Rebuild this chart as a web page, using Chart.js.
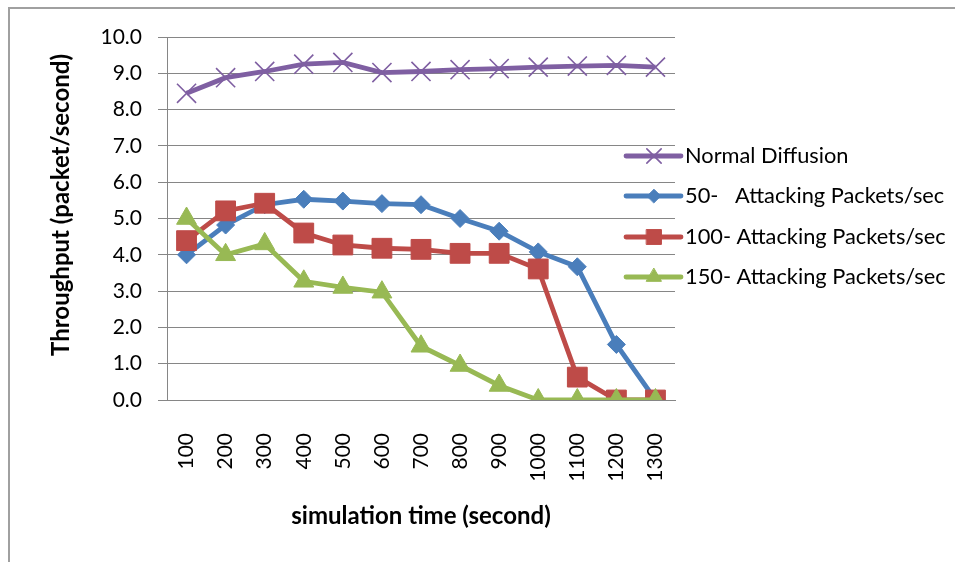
<!DOCTYPE html>
<html>
<head>
<meta charset="utf-8">
<script src="https://cdn.jsdelivr.net/npm/chart.js@4.4.1/dist/chart.umd.min.js"></script>
<style>
    html, body { margin: 0; padding: 0; background: #fff; }
    #wrap { width: 955px; height: 562px; position: relative; }
</style>
</head>
<body>
<div id="wrap"><canvas id="myChart" width="955" height="562"></canvas></div>
<script>
const simTimes = ['100', '200', '300', '400', '500', '600', '700', '800', '900', '1000', '1100', '1200', '1300'];
const normalDiffusion = [8.45, 8.88, 9.05, 9.25, 9.3, 9.02, 9.05, 9.1, 9.13, 9.17, 9.2, 9.22, 9.17];
const attack50 = [4.0, 4.82, 5.38, 5.53, 5.48, 5.41, 5.38, 5.0, 4.65, 4.08, 3.67, 1.53, 0];
const attack100 = [4.39, 5.21, 5.42, 4.6, 4.27, 4.18, 4.15, 4.04, 4.04, 3.61, 0.63, 0, 0];
const attack150 = [5.0, 4.0, 4.3, 3.27, 3.1, 2.97, 1.48, 0.95, 0.4, 0, 0, 0, 0];
const seriesNames = ['Normal Diffusion', '50-   Attacking Packets/sec', '100- Attacking Packets/sec', '150- Attacking Packets/sec'];
const yTicks = [0, 1, 2, 3, 4, 5, 6, 7, 8, 9, 10];
const yTitle = 'Throughput (packet/second)';

const FONT = 'Lato';
const gridGray = '#868686';

// frame around the whole chart (runs off the right and bottom edge)
const framePlugin = {
    id: 'frame',
    beforeDraw(chart) {
        const ctx = chart.ctx;
        ctx.save();
        ctx.strokeStyle = '#a0a0a0';
        ctx.lineWidth = 2;
        ctx.beginPath();
        ctx.moveTo(9, chart.height + 5);
        ctx.lineTo(9, 8);
        ctx.lineTo(chart.width + 5, 8);
        ctx.stroke();
        ctx.restore();
    }
};

// y title is centred a bit higher than the plot, so it's drawn by hand
const yTitlePlugin = {
    id: 'yTitle',
    afterDraw(chart) {
        const ctx = chart.ctx;
        ctx.save();
        ctx.translate(61, 205);
        ctx.rotate(-Math.PI / 2);
        ctx.fillStyle = '#000';
        ctx.font = 'bold 24px ' + FONT;
        ctx.textAlign = 'center';
        ctx.textBaseline = 'middle';
        ctx.fillText(yTitle, 0, 0);
        ctx.restore();
    }
};

// legend sits on top of the right end of the plot
const sideLegend = {
    id: 'sideLegend',
    afterDraw(chart) {
        const ctx = chart.ctx;
        const x0 = chart.chartArea.right - 49;
        const rows = [156, 196, 237, 277];
        ctx.save();
        chart.data.datasets.forEach((ds, i) => {
            const y = rows[i];
            ctx.strokeStyle = ds.borderColor;
            ctx.lineWidth = ds.borderWidth;
            ctx.lineCap = 'round';
            ctx.beginPath();
            ctx.moveTo(x0, y);
            ctx.lineTo(x0 + 55, y);
            ctx.stroke();
            ctx.fillStyle = ds.pointBackgroundColor;
            ctx.strokeStyle = ds.pointBorderColor;
            ctx.lineWidth = ds.pointBorderWidth;
            Chart.helpers.drawPoint(ctx, {
                pointStyle: ds.pointStyle,
                radius: ds.pointRadius * 0.75,
                borderWidth: ds.pointBorderWidth,
                rotation: 0
            }, x0 + 28, y);
            ctx.fillStyle = '#000';
            ctx.font = '21.8px ' + FONT;
            ctx.textBaseline = 'middle';
            ctx.textAlign = 'left';
            ctx.fillText(ds.label, x0 + 59, y);
        });
        ctx.restore();
    }
};

const makeSeries = (label, data, color, pointStyle, radius, order) => ({
    label,
    data,
    borderColor: color,
    backgroundColor: color,
    borderWidth: 4.8,
    pointStyle,
    pointRadius: radius,
    pointHoverRadius: radius,
    pointBackgroundColor: color,
    pointBorderColor: color,
    pointBorderWidth: pointStyle === 'crossRot' ? 1.6 : 1,
    tension: 0,
    order,
});

const ctx = document.querySelector('#myChart');
const chart = new Chart(ctx, {
    type: 'line',
    data: {
        labels: simTimes,
        datasets: [
            makeSeries(seriesNames[0], normalDiffusion, '#7f5fa2', 'crossRot', 13.5, 3),
            makeSeries(seriesNames[1], attack50, '#4a7ebb', 'rectRot', 9, 2),
            makeSeries(seriesNames[2], attack100, '#be4b48', 'rect', 14, 1),
            makeSeries(seriesNames[3], attack150, '#98b954', 'triangle', 11.5, 0),
        ],
    },
    options: {
        responsive: false,
        animation: false,
        events: [],
        layout: {
            padding: { top: 37, right: 280, bottom: 0, left: 0 }
        },
        scales: {
            x: {
                offset: true,
                grid: { display: false },
                border: { display: true, color: gridGray, width: 1 },
                ticks: {
                    color: '#000',
                    font: { family: FONT, size: 21 },
                    minRotation: 90,
                    maxRotation: 90,
                    padding: 25,
                },
                title: {
                    display: true,
                    text: 'simulation time (second)',
                    color: '#000',
                    font: { family: FONT, size: 24, weight: 'bold' },
                    padding: { top: 0, bottom: 31 },
                },
                afterFit: (scale) => { scale.height = 162; },
            },
            y: {
                min: 0,
                max: 10,
                afterBuildTicks: (scale) => {
                    scale.ticks = yTicks.map(v => ({ value: v }));
                },
                grid: {
                    color: gridGray,
                    lineWidth: 1,
                    tickLength: 9,
                    drawTicks: true,
                },
                border: { display: true, color: gridGray, width: 1 },
                ticks: {
                    color: '#000',
                    font: { family: FONT, size: 21 },
                    padding: 16,
                    callback: (v) => Number(v).toFixed(1),
                },
                title: { display: false },
                afterFit: (scale) => { scale.width = 167; },
            }
        },
        plugins: {
            legend: { display: false },
            tooltip: { enabled: false },
        }
    },
    plugins: [framePlugin, yTitlePlugin, sideLegend]
});
</script>
</body>
</html>
